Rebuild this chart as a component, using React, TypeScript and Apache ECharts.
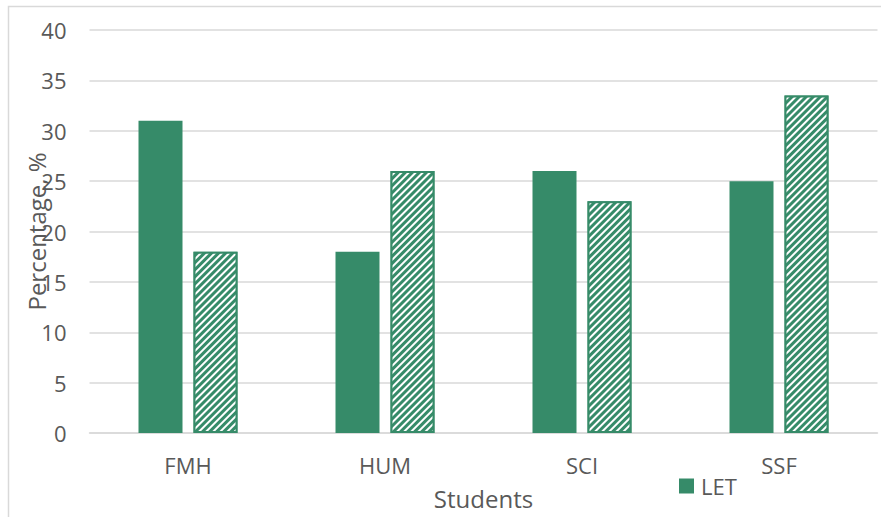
import React, { useEffect, useRef } from "react";
import * as echarts from "echarts";

const categories = ["FMH", "HUM", "SCI", "SSF"];
const letValues = [31, 18, 26, 25];
const otherValues = [18, 26, 23, 33.5];
const yTicks = { min: 0, max: 40, interval: 5 };

const GREEN = "#368b69";
const GRID_GRAY = "#d9d9d9";
const TEXT_GRAY = "#595959";
const FONT = "'Open Sans', sans-serif";

export default function App() {
  const ref = useRef<HTMLDivElement>(null);

  useEffect(() => {
    if (!ref.current) return;
    const chart = echarts.init(ref.current, null, { renderer: "svg" });
    chart.setOption({
      animation: false,
      backgroundColor: "#fff",
      textStyle: { fontFamily: FONT },
      graphic: [
        {
          type: "rect",
          shape: { x: 8.5, y: 6.5, width: 1000, height: 1000 },
          style: { fill: "none", stroke: GRID_GRAY, lineWidth: 1.5 },
          silent: true,
          z: -1,
        },
      ],
      grid: { left: 89.5, right: 3.5, top: 30, bottom: 84, containLabel: false },
      legend: {
        data: ["LET"],
        left: 674,
        top: 470,
        itemWidth: 15,
        itemHeight: 15,
        itemGap: 6,
        icon: "rect",
        textStyle: { color: TEXT_GRAY, fontSize: 22, fontFamily: FONT, padding: [0, 0, 0, 2] },
      },
      xAxis: {
        type: "category",
        data: categories,
        name: "Students",
        nameLocation: "middle",
        nameGap: 53,
        nameTextStyle: { color: TEXT_GRAY, fontSize: 24, fontFamily: FONT },
        axisLine: { lineStyle: { color: GRID_GRAY, width: 1.5 } },
        axisTick: { show: false },
        axisLabel: { color: TEXT_GRAY, fontSize: 22, margin: 21, fontFamily: FONT },
      },
      yAxis: {
        type: "value",
        min: yTicks.min,
        max: yTicks.max,
        interval: yTicks.interval,
        name: "Percentage, %",
        nameLocation: "middle",
        nameGap: 41,
        nameMoveOverlap: false,
        nameTextStyle: { color: TEXT_GRAY, fontSize: 24, fontFamily: FONT },
        axisLine: { show: false },
        axisTick: { show: false },
        axisLabel: { color: TEXT_GRAY, fontSize: 22, margin: 23, fontFamily: FONT },
        splitLine: { lineStyle: { color: GRID_GRAY, width: 1.5 } },
      },
      series: [
        {
          name: "LET",
          type: "bar",
          data: letValues,
          barWidth: 44,
          barGap: "25%",
          itemStyle: { color: GREEN },
        },
        {
          name: "Other",
          type: "bar",
          data: otherValues,
          barWidth: 44,
          itemStyle: {
            color: GREEN,
            borderColor: GREEN,
            borderWidth: 2,
            decal: {
              symbol: "rect",
              symbolSize: 1,
              dashArrayX: [1, 0],
              dashArrayY: [1.8, 2.2],
              rotation: -Math.PI / 4,
              color: "#ffffff",
            },
          },
        },
      ],
    });
    return () => chart.dispose();
  }, []);

  return (
    <div
      ref={ref}
      style={{ position: "fixed", left: 0, top: 0, width: 881, height: 517 }}
    />
  );
}
